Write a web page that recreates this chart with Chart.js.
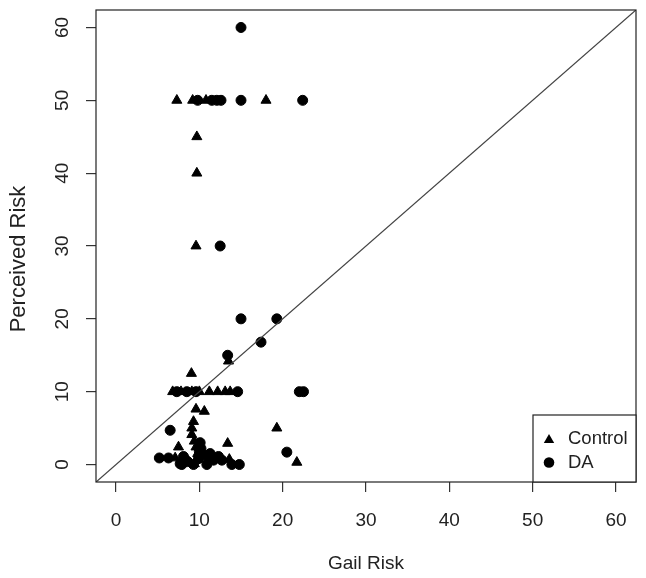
<!DOCTYPE html>
<html><head><meta charset="utf-8">
<script src="https://cdn.jsdelivr.net/npm/chart.js@4/dist/chart.umd.min.js"></script>
<style>html,body{margin:0;padding:0;background:#fff}#c{display:block}</style>
</head><body>
<canvas id="c" width="646" height="578"></canvas>
<script>
// ---- data ----
const xTicks = [0, 10, 20, 30, 40, 50, 60];
const yTicks = [0, 10, 20, 30, 40, 50, 60];
const axisLimits = [-2.4, 62.4];
const seriesNames = ['Control', 'DA'];
const xTitle = 'Gail Risk';
const yTitle = 'Perceived Risk';

const controlGail = [7.3, 9.2, 10.8, 18.0, 9.7, 9.7, 9.6, 13.5, 9.05,
  6.8, 7.8, 9.1, 10.0, 11.2, 12.2, 13.1, 13.7,
  9.6, 10.6, 9.3, 9.1, 9.1, 9.4, 9.6, 9.8,
  19.3, 13.4, 7.5, 21.7, 7.1, 8.7, 13.6, 9.4, 11.0];
const controlPerceived = [50, 50, 50, 50, 45, 40, 30, 14.2, 12.5,
  10, 10, 10, 10, 10, 10, 10, 10,
  7.6, 7.3, 5.9, 5.0, 4.1, 3.2, 2.4, 1.5,
  5.0, 2.9, 2.4, 0.3, 0.9, 0.4, 0.7, 0.1, 0.6];

const daGail = [15.0, 9.8, 11.5, 12.1, 12.6, 15.0, 22.4, 12.5,
  15.0, 19.3, 17.4, 13.4,
  7.3, 8.5, 9.6, 14.6, 22.0, 22.5,
  6.5, 20.5,
  5.2, 6.3, 7.7, 8.1, 8.6, 10.0, 10.6, 11.3, 11.7, 12.3, 12.7, 13.9, 14.8, 7.9, 9.3, 10.9, 10.1, 10.2, 9.9];
const daPerceived = [60, 50, 50, 50, 50, 50, 50, 30,
  20, 20, 16.8, 15,
  10, 10, 10, 10, 10, 10,
  4.7, 1.7,
  0.9, 0.9, 0.1, 1.1, 0.4, 1.8, 1.3, 1.5, 0.6, 1.1, 0.6, 0.0, 0.0, 0.0, 0.0, 0.0, 3.0, 2.2, 0.8];

// ---- drawing ----
const FONT = '"Liberation Sans", Arial, sans-serif';
const INK = '#222';

function drawTri(ctx, x, y, r) {
  ctx.beginPath();
  ctx.moveTo(x, y - r);
  ctx.lineTo(x + r * Math.sqrt(3) / 2, y + r / 2);
  ctx.lineTo(x - r * Math.sqrt(3) / 2, y + r / 2);
  ctx.closePath();
  ctx.fill();
}
function drawDot(ctx, x, y, r) {
  ctx.beginPath();
  ctx.arc(x, y, r, 0, Math.PI * 2);
  ctx.fill();
}

const framePlugin = {
  id: 'frame',
  afterDraw(chart) {
    const ctx = chart.ctx;
    const a = chart.chartArea;
    const xs = chart.scales.x, ys = chart.scales.y;
    ctx.save();
    // plot box
    ctx.strokeStyle = INK;
    ctx.lineWidth = 1.2;
    ctx.strokeRect(a.left, a.top, a.right - a.left, a.bottom - a.top);
    // tick labels
    ctx.fillStyle = INK;
    ctx.font = '19px ' + FONT;
    ctx.textAlign = 'center';
    ctx.textBaseline = 'middle';
    xTicks.forEach(v => ctx.fillText(String(v), xs.getPixelForValue(v), 521));
    yTicks.forEach(v => {
      ctx.save();
      ctx.translate(63, ys.getPixelForValue(v));
      ctx.rotate(-Math.PI / 2);
      ctx.fillText(String(v), 0, 0);
      ctx.restore();
    });
    // axis titles
    ctx.font = '19px ' + FONT;
    ctx.fillText(xTitle, (a.left + a.right) / 2, 564);
    ctx.save();
    ctx.translate(19, 259);
    ctx.rotate(-Math.PI / 2);
    ctx.font = '22px ' + FONT;
    ctx.fillText(yTitle, 0, 0);
    ctx.restore();
    // legend
    const bw = 103, bh = 67;
    const bx = a.right - bw, by = a.bottom - bh;
    ctx.fillStyle = '#fff';
    ctx.fillRect(bx, by, bw, bh);
    ctx.strokeStyle = INK;
    ctx.lineWidth = 1.2;
    ctx.strokeRect(bx, by, bw, bh);
    ctx.fillStyle = '#000';
    drawTri(ctx, bx + 16, by + 25, 6);
    drawDot(ctx, bx + 16, by + 47.5, 5.3);
    ctx.fillStyle = INK;
    ctx.font = '18.5px ' + FONT;
    ctx.textAlign = 'left';
    ctx.fillText(seriesNames[0], bx + 35, by + 24);
    ctx.fillText(seriesNames[1], bx + 35, by + 47.5);
    ctx.restore();
  }
};

new Chart(document.getElementById('c').getContext('2d'), {
  type: 'scatter',
  data: {
    datasets: [
      {
        label: 'y = x', type: 'line',
        data: axisLimits.map(v => ({x: v, y: v})),
        borderColor: '#444', borderWidth: 1.3, pointRadius: 0, fill: false
      },
      {
        label: seriesNames[0],
        data: controlGail.map((g, i) => ({x: g, y: controlPerceived[i]})),
        pointStyle: 'triangle', pointRadius: 5.8,
        backgroundColor: '#000', borderColor: '#000', borderWidth: 1
      },
      {
        label: seriesNames[1],
        data: daGail.map((g, i) => ({x: g, y: daPerceived[i]})),
        pointStyle: 'circle', pointRadius: 5,
        backgroundColor: '#000', borderColor: '#000', borderWidth: 1
      }
    ]
  },
  options: {
    responsive: false, animation: false, events: [],
    layout: {padding: {left: 0, right: 10, top: 10, bottom: 0}},
    plugins: {legend: {display: false}, tooltip: {enabled: false}},
    scales: {
      x: {
        type: 'linear', min: axisLimits[0], max: axisLimits[1],
        afterBuildTicks: s => { s.ticks = xTicks.map(v => ({value: v})); },
        afterFit: s => { s.height = 96; },
        ticks: {display: false},
        grid: {drawOnChartArea: false, drawTicks: true, tickLength: 10, color: '#333', lineWidth: 1.2},
        border: {display: false}
      },
      y: {
        type: 'linear', min: axisLimits[0], max: axisLimits[1],
        afterBuildTicks: s => { s.ticks = yTicks.map(v => ({value: v})); },
        afterFit: s => { s.width = 96; },
        ticks: {display: false},
        grid: {drawOnChartArea: false, drawTicks: true, tickLength: 10, color: '#333', lineWidth: 1.2},
        border: {display: false}
      }
    }
  },
  plugins: [framePlugin]
});
</script>
</body></html>
